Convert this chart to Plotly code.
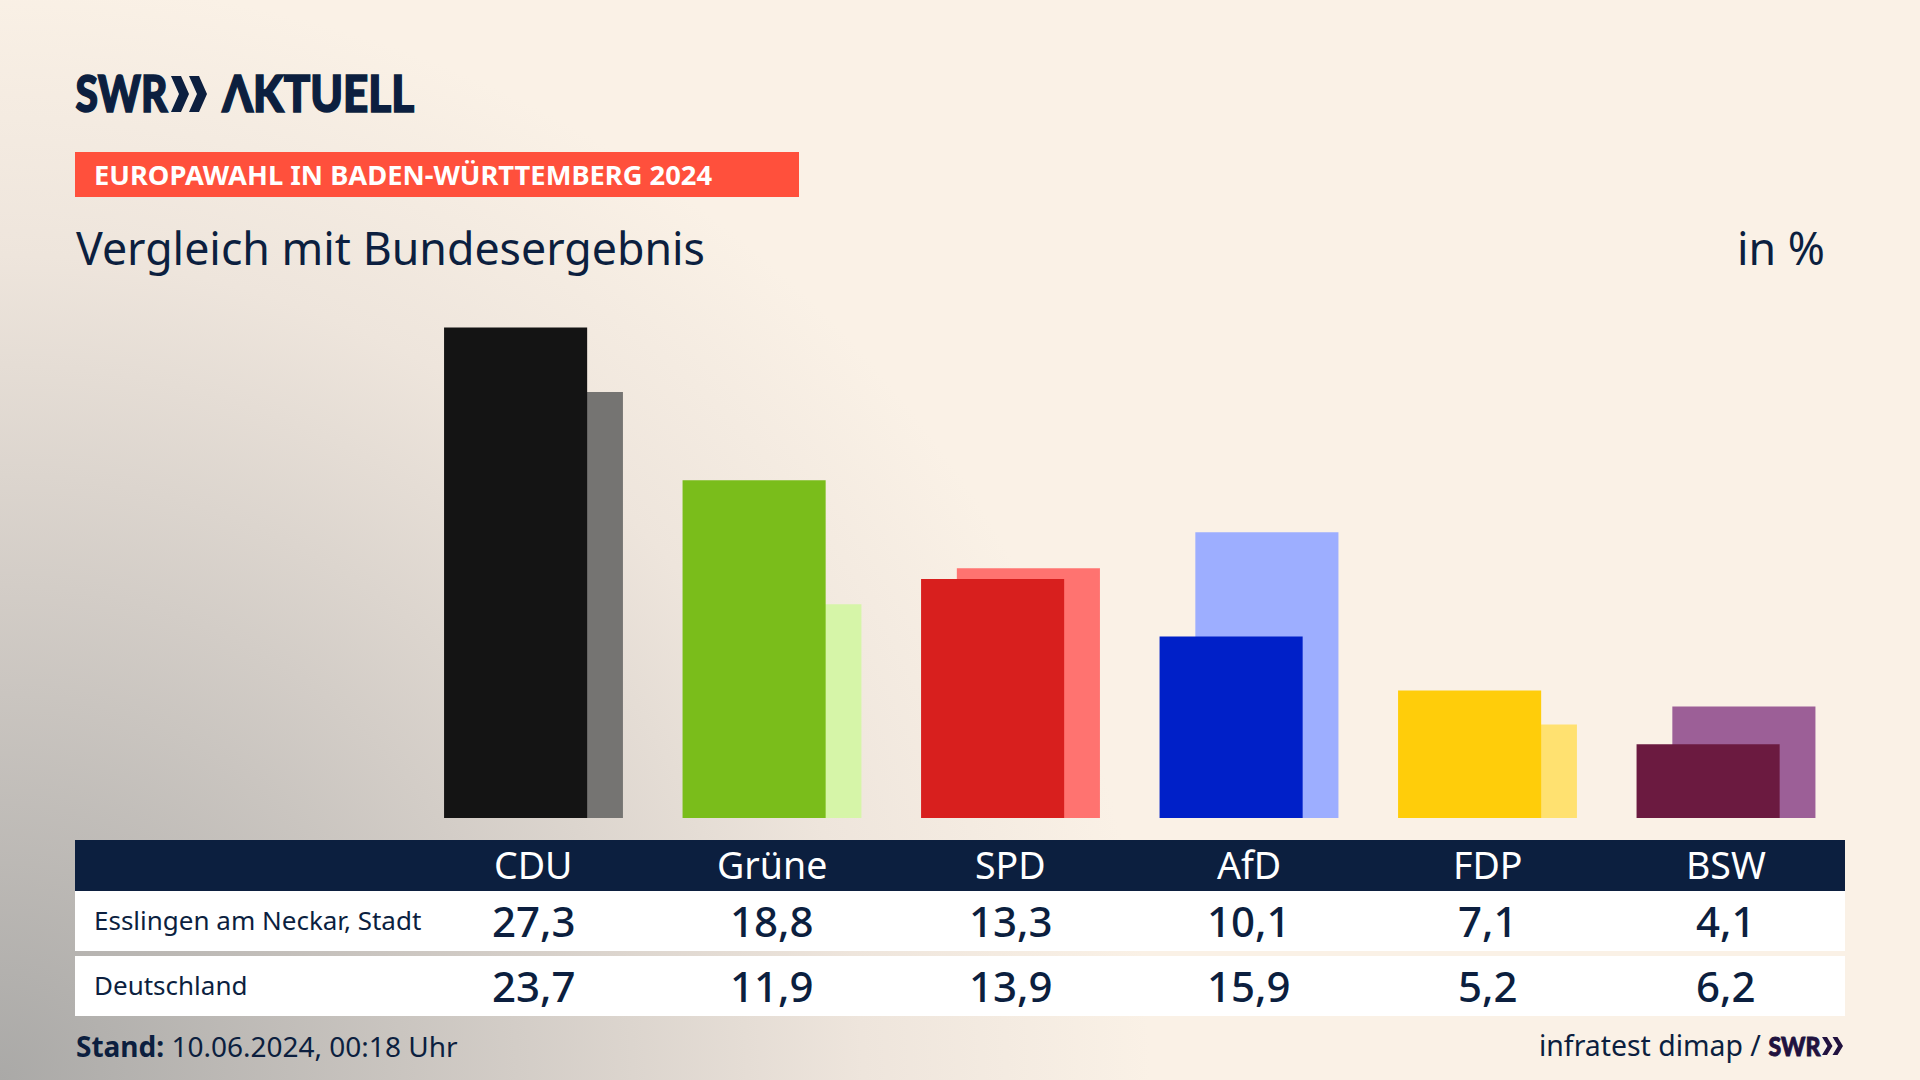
import plotly.graph_objects as go

W, H = 1920, 1080

parties = ['CDU', 'Grüne', 'SPD', 'AfD', 'FDP', 'BSW']
esslingen = [27.3, 18.8, 13.3, 10.1, 7.1, 4.1]
deutschland = [23.7, 11.9, 13.9, 15.9, 5.2, 6.2]
front_colors = ['#141414', '#7abd1b', '#d81f1e', '#0020c8', '#ffcd0a', '#6b1a40']
back_colors = ['#757472', '#d6f5a8', '#ff7370', '#9daeff', '#ffe170', '#9c5f97']

NAVY = '#0c1f3f'
FONT = 'Noto Sans'
LOGO = 'Lato'


def px_x(x):
    return x / W


def px_y(y):
    return 1 - y / H


def rect(x0, y0, x1, y1, color):
    return dict(type='rect', xref='paper', yref='paper', x0=px_x(x0), x1=px_x(x1),
                y0=px_y(y1), y1=px_y(y0), fillcolor=color, line_width=0)


def chevron(x, y0, y1, w, d, color):
    ym = (y0 + y1) / 2
    pts = [(x, y0), (x + w, y0), (x + w + d, ym), (x + w, y1), (x, y1), (x + d, ym)]
    path = 'M ' + ' L '.join(f'{px_x(a):.5f},{px_y(b):.5f}' for a, b in pts) + ' Z'
    return dict(type='path', xref='paper', yref='paper', path=path, fillcolor=color, line_width=0)


def label(text, x, y, size, color=NAVY, anchor='left', xref='paper', family=FONT, weight=400):
    return dict(text=text, x=px_x(x) if xref == 'paper' else x, y=px_y(y), xref=xref, yref='paper',
                xanchor=anchor, yanchor='middle', showarrow=False, borderpad=0,
                font=dict(family=family, size=size, color=color, weight=weight))


fig = go.Figure()
fig.add_trace(go.Bar(x=parties, y=deutschland, width=0.6, offset=-0.225, marker_color=back_colors,
                     marker_line_width=0, name='Deutschland'))
fig.add_trace(go.Bar(x=parties, y=esslingen, width=0.6, offset=-0.375, marker_color=front_colors,
                     marker_line_width=0, name='Esslingen am Neckar, Stadt'))

shapes = [
    rect(75, 152, 799, 197, '#ff503c'),
    rect(75, 840, 1845, 891, NAVY),
    rect(75, 891, 1845, 951, 'white'),
    rect(75, 956, 1845, 1016, 'white'),
    chevron(171, 76, 112, 10, 8, NAVY),
    chevron(189, 76, 112, 10, 8, NAVY),
    chevron(1822, 1037, 1055, 5, 5.5, '#21123f'),
    chevron(1832.5, 1037, 1055, 5, 5.5, '#21123f'),
]

annotations = [
    label('SWR', 122, 92.5, 51, anchor='center', family=LOGO, weight=900),
    label('ΛKTUELL', 318, 92.5, 51, anchor='center', family=LOGO, weight=900),
    label('<b>EUROPAWAHL IN BADEN-WÜRTTEMBERG 2024</b>', 93, 175, 27.3, 'white'),
    label('Vergleich mit Bundesergebnis', 75, 247, 44.7),
    label('in %', 1826, 247, 44.7, anchor='right'),
    label('Esslingen am Neckar, Stadt', 93, 920, 26),
    label('Deutschland', 93, 985, 26),
    label('<b>Stand:</b> 10.06.2024, 00:18 Uhr', 75, 1046, 28),
    label('infratest dimap /', 1762, 1045, 28.4, anchor='right'),
    label('SWR', 1794, 1045, 27, '#21123f', 'center', family=LOGO, weight=900),
]
for name, a, b in zip(parties, esslingen, deutschland):
    annotations.append(label(name, name, 864, 37.5, 'white', 'center', 'x'))
    annotations.append(label(f'{a:.1f}'.replace('.', ','), name, 920, 42, NAVY, 'center', 'x', weight=500))
    annotations.append(label(f'{b:.1f}'.replace('.', ','), name, 985, 42, NAVY, 'center', 'x', weight=500))

fig.update_layout(
    width=W, height=H, margin=dict(l=0, r=0, t=0, b=0),
    barmode='overlay', showlegend=False,
    paper_bgcolor='rgba(0,0,0,0)', plot_bgcolor='rgba(0,0,0,0)',
    shapes=shapes, annotations=annotations,
)
# category centres sit 238.5 px apart, first one at x=533.5, baseline at y=818, 17.97 px per point
fig.update_xaxes(visible=False, type='category', categoryorder='array', categoryarray=parties,
                 range=[-533.5 / 238.5, (W - 533.5) / 238.5])
fig.update_yaxes(visible=False, range=[(818 - H) / 17.97, 818 / 17.97])

# the logo lettering is condensed and heavy, no installed font has that so squeeze the svg text
page_css = """
document.body.style.margin = '0';
document.body.style.overflow = 'hidden';
document.body.style.background = 'radial-gradient(ellipse 1150px 1100px at 0 100%, #aaa9a7 0%, #d3cdc7 45%, #eee5dc 75%, #faf1e6 100%) #faf1e6';
document.querySelectorAll('.annotation-text').forEach(function (t) {
    var big = parseFloat(t.style.fontSize) > 40;
    var w = t.textContent === 'ΛKTUELL' ? 192 : (t.textContent === 'SWR' ? (big ? 92 : 52) : 0);
    if (w) {
        t.setAttribute('textLength', w);
        t.setAttribute('lengthAdjust', 'spacingAndGlyphs');
        t.style.stroke = t.style.fill;
        t.style.strokeWidth = big ? '1.6px' : '0.9px';
    }
});
"""
fig.write_html("out.html", post_script=page_css, config=dict(displayModeBar=False))
